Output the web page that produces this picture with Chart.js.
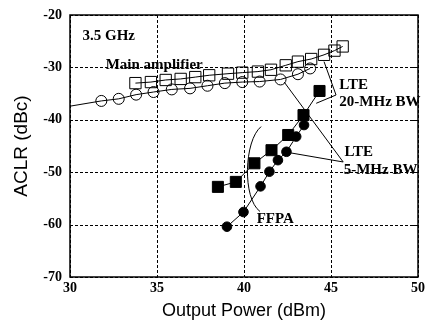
<!DOCTYPE html>
<html>
<head>
<meta charset="utf-8">
<script src="https://cdn.jsdelivr.net/npm/chart.js@4.4.1/dist/chart.umd.min.js"></script>
<style>
  html, body { margin: 0; padding: 0; background: #fff; }
  #chart { display: block; }
</style>
</head>
<body>
<canvas id="chart" width="427" height="325"></canvas>
<script>
//
// DATEN
//
// x-Achse: Output Power (dBm), y-Achse: ACLR (dBc)
const xTicks = [30, 35, 40, 45, 50];
const yTicks = [-20, -30, -40, -50, -60, -70];

// Main amplifier, LTE 5-MHz BW (offene Kreise); erster Punkt = Anfang der Linie am Rand, ohne Marker
const mainAmp5Power = [30, 31.8, 32.8, 33.8, 34.8, 35.85, 36.9, 37.9, 38.9, 39.9, 40.9, 42.1, 43.1, 43.8];
const mainAmp5Aclr  = [-37.4, -36.4, -36.0, -35.2, -34.7, -34.2, -34.0, -33.5, -33.0, -32.8, -32.7, -32.3, -31.3, -30.2];

// Main amplifier, LTE 20-MHz BW (offene Quadrate)
const mainAmp20Power = [33.76, 34.65, 35.5, 36.36, 37.2, 38.0, 39.08, 39.9, 40.8, 41.55, 42.4, 43.1, 43.86, 44.6, 45.2, 45.67];
const mainAmp20Aclr  = [-33.0, -32.8, -32.4, -32.2, -31.85, -31.5, -31.2, -31.0, -30.8, -30.45, -29.6, -28.9, -28.4, -27.6, -26.8, -26.0];

// FFPA, LTE 20-MHz BW (gefüllte Quadrate)
const ffpa20Power = [38.5, 39.53, 40.6, 41.58, 42.54, 43.42, 44.34];
const ffpa20Aclr  = [-52.8, -51.85, -48.3, -45.8, -42.9, -39.1, -34.5];

// FFPA, LTE 5-MHz BW (gefüllte Kreise)
const ffpa5Power = [39.02, 39.97, 40.95, 41.46, 41.95, 42.44, 43.0, 43.45];
const ffpa5Aclr  = [-60.4, -57.6, -52.7, -49.9, -47.7, -46.1, -43.2, -41.0];

// Beschriftungen im Diagramm (Text, x, y in Achsenwerten)
const noteTexts = ["3.5 GHz", "Main amplifier", "LTE", "20-MHz BW", "LTE", "5-MHz BW", "FFPA"];
const noteX     = [30.72, 32.05, 45.48, 45.48, 45.77, 45.73, 40.73];
const noteY     = [-24.1, -29.6, -33.4, -36.6, -46.1, -49.6, -59.0];

// Hinweislinien (Polylinien in Achsenwerten)
const leader20 = [[44.6, -28.9], [45.29, -35.27], [44.15, -36.85]];
const leader5a = [[42.31, -32.8], [45.7, -48.05]];
const leader5b = [[42.65, -46.3], [45.7, -48.05]];
// Klammer um die FFPA-Kurven: Start, Kontrollpunkt 1, Kontrollpunkt 2, Ende
const ffpaArc = [[40.98, -41.3], [40.0, -44.0], [39.9, -55.0], [40.92, -57.5]];

const serifBold = { family: "'Liberation Serif', 'Times New Roman', serif", size: 14, weight: 'bold' };
const sans = { family: "'Liberation Sans', Arial, sans-serif", size: 18 };

function toPoints(xs, ys) {
  return xs.map((x, i) => ({ x: x, y: ys[i] }));
}

//
// PLUGIN: Gitter, Rahmen, Texte, Hinweislinien
//
const decoPlugin = {
  id: 'deco',
  beforeDatasetsDraw(chart) {
    // gestricheltes Gitter (selbst gezeichnet)
    const ctx = chart.ctx;
    const area = chart.chartArea;
    const sx = chart.scales.x, sy = chart.scales.y;
    ctx.save();
    ctx.strokeStyle = '#000';
    ctx.lineWidth = 1;
    ctx.setLineDash([3, 2]);
    xTicks.forEach(v => {
      const x = Math.round(sx.getPixelForValue(v)) + 0.5;
      ctx.beginPath();
      ctx.moveTo(x, area.top);
      ctx.lineTo(x, area.bottom);
      ctx.stroke();
    });
    yTicks.forEach(v => {
      const y = Math.round(sy.getPixelForValue(v)) + 0.5;
      ctx.beginPath();
      ctx.moveTo(area.left, y);
      ctx.lineTo(area.right, y);
      ctx.stroke();
    });
    ctx.restore();
  },
  afterDatasetsDraw(chart) {
    const ctx = chart.ctx;
    const sx = chart.scales.x, sy = chart.scales.y;
    const px = (p) => [sx.getPixelForValue(p[0]), sy.getPixelForValue(p[1])];

    ctx.save();
    ctx.strokeStyle = '#000';
    ctx.lineWidth = 1;
    ctx.setLineDash([]);

    [leader20, leader5a, leader5b].forEach(line => {
      ctx.beginPath();
      line.forEach((p, i) => {
        const [x, y] = px(p);
        if (i === 0) ctx.moveTo(x, y); else ctx.lineTo(x, y);
      });
      ctx.stroke();
    });

    const a = ffpaArc.map(px);
    ctx.beginPath();
    ctx.moveTo(a[0][0], a[0][1]);
    ctx.bezierCurveTo(a[1][0], a[1][1], a[2][0], a[2][1], a[3][0], a[3][1]);
    ctx.stroke();

    ctx.fillStyle = '#000';
    ctx.font = "bold 15px 'Liberation Serif', 'Times New Roman', serif";
    ctx.textAlign = 'left';
    ctx.textBaseline = 'middle';
    noteTexts.forEach((t, i) => {
      const [x, y] = px([noteX[i], noteY[i]]);
      ctx.fillText(t, x, y);
    });

    // Rahmen um die Zeichenfläche
    const area = chart.chartArea;
    ctx.lineWidth = 1.5;
    ctx.strokeRect(area.left, area.top, area.right - area.left, area.bottom - area.top);

    // kurze Striche nach innen am rechten Rand
    ctx.lineWidth = 1;
    yTicks.forEach(v => {
      const y = Math.round(sy.getPixelForValue(v)) + 0.5;
      ctx.beginPath();
      ctx.moveTo(area.right, y);
      ctx.lineTo(area.right - 8, y);
      ctx.stroke();
    });
    ctx.restore();
  }
};

//
// CHART
//
const lineStyle = { borderColor: '#000', borderWidth: 1, showLine: true, tension: 0, pointBorderColor: '#000', pointBorderWidth: 1 };

new Chart(document.getElementById('chart'), {
  type: 'scatter',
  data: {
    datasets: [
      Object.assign({}, lineStyle, {
        label: 'Main amplifier 5-MHz',
        data: toPoints(mainAmp5Power, mainAmp5Aclr),
        pointStyle: 'circle',
        pointRadius: (c) => c.dataIndex === 0 ? 0 : 5.5,
        pointBackgroundColor: 'rgba(0,0,0,0)'
      }),
      Object.assign({}, lineStyle, {
        label: 'Main amplifier 20-MHz',
        data: toPoints(mainAmp20Power, mainAmp20Aclr),
        pointStyle: 'rect',
        pointRadius: 8,
        pointBackgroundColor: 'rgba(0,0,0,0)'
      }),
      Object.assign({}, lineStyle, {
        label: 'FFPA 20-MHz',
        data: toPoints(ffpa20Power, ffpa20Aclr),
        pointStyle: 'rect',
        pointRadius: 7.8,
        pointBackgroundColor: '#000'
      }),
      Object.assign({}, lineStyle, {
        label: 'FFPA 5-MHz',
        data: toPoints(ffpa5Power, ffpa5Aclr),
        pointStyle: 'circle',
        pointRadius: 4.8,
        pointBackgroundColor: '#000'
      })
    ]
  },
  options: {
    responsive: false,
    animation: false,
    layout: { padding: { top: 15, right: 6, left: 0, bottom: 0 } },
    plugins: {
      legend: { display: false },
      tooltip: { enabled: false }
    },
    scales: {
      x: {
        type: 'linear',
        min: 30,
        max: 50,
        afterBuildTicks: (s) => { s.ticks = xTicks.map(v => ({ value: v })); },
        afterFit: (s) => { s.height = 48; s.paddingLeft = 0; s.paddingRight = 0; },
        ticks: { font: serifBold, color: '#000', padding: 3, maxRotation: 0 },
        grid: { display: false, drawTicks: false },
        border: { display: false },
        title: { display: true, text: 'Output Power (dBm)', font: sans, color: '#000', padding: { top: 0, bottom: 3 } }
      },
      y: {
        type: 'linear',
        min: -70,
        max: -20,
        afterBuildTicks: (s) => { s.ticks = yTicks.map(v => ({ value: v })); },
        afterFit: (s) => { s.width = 70; s.paddingTop = 0; s.paddingBottom = 0; },
        ticks: { font: serifBold, color: '#000', padding: 8 },
        grid: { display: false, drawTicks: false },
        border: { display: false },
        title: { display: true, text: 'ACLR (dBc)', font: { family: sans.family, size: 19 }, color: '#000', padding: { top: 10, bottom: 0 } }
      }
    }
  },
  plugins: [decoPlugin]
});
</script>
</body>
</html>
